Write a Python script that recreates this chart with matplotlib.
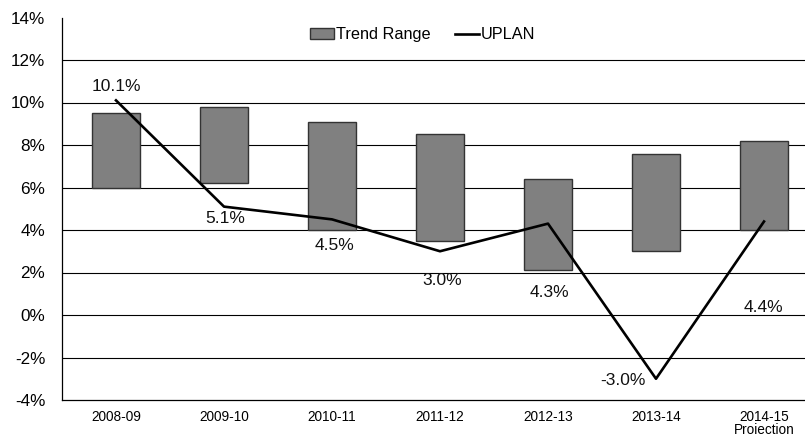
import matplotlib
matplotlib.use("Agg")
import matplotlib.pyplot as plt
from matplotlib.patches import Patch
from matplotlib.lines import Line2D
from matplotlib.ticker import FuncFormatter, MultipleLocator

plt.rcParams['font.family'] = ['Liberation Sans', 'DejaVu Sans']

# Fiscal years and the data
years = ["2008-09", "2009-10", "2010-11", "2011-12", "2012-13", "2013-14", "2014-15\nProjection"]
trend_low = [6.0, 6.2, 4.0, 3.5, 2.1, 3.0, 4.0]
trend_high = [9.5, 9.8, 9.1, 8.5, 6.4, 7.6, 8.2]
uplan = [10.1, 5.1, 4.5, 3.0, 4.3, -3.0, 4.4]

# Label offsets (pixels) from each UPLAN point
label_dx = [0, 1, 2, 2, 1, -33, -1]
label_dy = [14, -12, -26, -29, -69, -2, -86]

W, H = 805, 434
fig = plt.figure(figsize=(W / 100, H / 100), dpi=100)
ax = fig.add_axes([62 / W, (H - 400) / H, (818 - 62) / W, (400 - 17.5) / H])

x = list(range(len(years)))
heights = [h - l for l, h in zip(trend_low, trend_high)]
ax.bar(x, heights, bottom=trend_low, width=0.445, color="#808080",
       edgecolor="#333333", linewidth=1.0, zorder=3)
ax.plot(x, uplan, color="black", linewidth=1.9, zorder=4)

for xi, v, dx, dy in zip(x, uplan, label_dx, label_dy):
    ax.annotate(f"{v:.1f}%", xy=(xi, v), xytext=(dx, dy), textcoords="offset pixels",
                ha="center", va="center", fontsize=12.5, color="#111111", zorder=5)

ax.set_xlim(-0.5, len(years) - 0.5)
ax.set_ylim(-4, 14)
ax.yaxis.set_major_locator(MultipleLocator(2))
ax.yaxis.set_major_formatter(FuncFormatter(lambda v, p: f"{v:.0f}%"))
for yv in range(-2, 14, 2):
    ax.axhline(yv, color="black", linewidth=0.8, zorder=1)

ax.set_xticks(x)
ax.set_xticklabels(years, fontsize=9.8, va="top", linespacing=0.95)
ax.tick_params(axis="x", length=0, pad=7)
ax.tick_params(axis="y", length=0, pad=12, labelsize=12.3)

for side in ("top", "right"):
    ax.spines[side].set_visible(False)
ax.spines["left"].set_linewidth(0.9)
ax.spines["bottom"].set_linewidth(0.9)

handles = [Patch(facecolor="#808080", edgecolor="#333333", linewidth=1.0, label="Trend Range"),
           Line2D([0], [0], color="black", linewidth=1.9, label="UPLAN")]
ax.legend(handles=handles, loc="upper center", bbox_to_anchor=(0.5 - 0.023, 1.0),
          ncol=2, frameon=False, fontsize=11.7, handlelength=1.5, handleheight=0.6,
          handletextpad=0.1, columnspacing=1.5, borderaxespad=0.2)

fig.savefig("out.png", dpi=100)
